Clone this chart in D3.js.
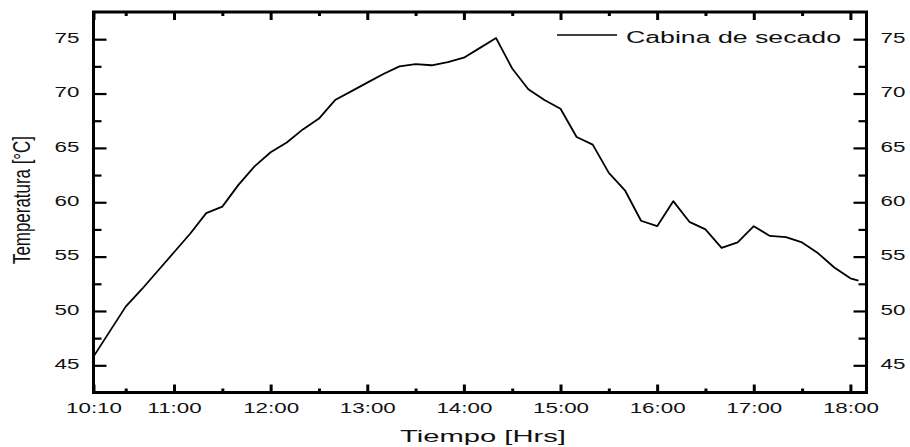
<!DOCTYPE html>
<html>
<head>
<meta charset="utf-8">
<script src="https://cdn.jsdelivr.net/npm/d3@7"></script>
<style>
  body { margin: 0; background: #fff; }
  svg text { font-family: "Liberation Sans", Arial, sans-serif; fill: #111; }
</style>
</head>
<body>
<div id="chart"></div>
<script>
// Tiempo de medición y temperatura de la cabina
const times = ["10:10", "10:20", "10:30", "10:40", "10:50", "11:00", "11:10", "11:20", "11:30", "11:40",
    "11:50", "12:00", "12:10", "12:20", "12:30", "12:40", "12:50", "13:00", "13:10", "13:20",
    "13:30", "13:40", "13:50", "14:00", "14:10", "14:20", "14:30", "14:40", "14:50", "15:00",
    "15:10", "15:20", "15:30", "15:40", "15:50", "16:00", "16:10", "16:20", "16:30", "16:40",
    "16:50", "17:00", "17:10", "17:20", "17:30", "17:40", "17:50", "18:00", "18:05"];
const temps = [45.8, 48.1, 50.4, 52.0, 53.7, 55.4, 57.1, 59.0, 59.6, 61.6,
    63.3, 64.6, 65.5, 66.7, 67.7, 69.4, 70.2, 71.0, 71.8, 72.5,
    72.7, 72.6, 72.9, 73.3, 74.2, 75.1, 72.3, 70.4, 69.4, 68.6,
    66.0, 65.3, 62.7, 61.1, 58.3, 57.8, 60.1, 58.2, 57.5, 55.8,
    56.3, 57.8, 56.9, 56.8, 56.3, 55.3, 54.0, 53.0, 52.8];

const xTickLabels = ["10:10", "11:00", "12:00", "13:00", "14:00", "15:00", "16:00", "17:00", "18:00"];
const xMinorLabels = ["10:30", "11:30", "12:30", "13:30", "14:30", "15:30", "16:30", "17:30"];
const yTicks = [45, 50, 55, 60, 65, 70, 75];
const yMinor = [47.5, 52.5, 57.5, 62.5, 67.5, 72.5];
const seriesName = "Cabina de secado";

const toMin = s => { const p = s.split(":"); return +p[0] * 60 + +p[1]; };
const fmtTime = m => Math.floor(m / 60) + ":" + String(m % 60).padStart(2, "0");

const width = 910, height = 447;
const margin = { top: 12, right: 43.5, bottom: 54.5, left: 93.5 };
const innerW = width - margin.left - margin.right;
const innerH = height - margin.top - margin.bottom;
const sx = 1.6; // texto estirado horizontalmente

const data = times.map((t, i) => ({ t: toMin(t), v: temps[i] }));

const x = d3.scaleLinear().domain([toMin("10:10"), toMin("18:10")]).range([0, innerW]);
const y = d3.scaleLinear().domain([42.5, 77.5]).range([innerH, 0]);

const svg = d3.select("#chart").append("svg")
    .attr("width", width)
    .attr("height", height);

const g = svg.append("g")
    .attr("transform", "translate(" + margin.left + "," + margin.top + ")");

function stretchTicks(sel) {
    sel.selectAll(".tick text").each(function() {
        const t = d3.select(this);
        const tx = +t.attr("x") || 0;
        t.attr("x", tx / sx).attr("transform", "scale(" + sx + ",1)");
    });
}

function styleAxis(sel, w) {
    sel.select(".domain").remove();
    sel.selectAll(".tick line").attr("stroke", "#000").attr("stroke-width", w);
}

const xMajor = xTickLabels.map(toMin);
const xMin = xMinorLabels.map(toMin);

// eje inferior
const xb = g.append("g").attr("transform", "translate(0," + innerH + ")")
    .call(d3.axisBottom(x).tickValues(xMajor).tickSize(-8).tickSizeOuter(0).tickPadding(10.5).tickFormat(fmtTime));
xb.selectAll(".tick text").style("font-size", "14px");
styleAxis(xb, 3);
stretchTicks(xb);
const xbm = g.append("g").attr("transform", "translate(0," + innerH + ")")
    .call(d3.axisBottom(x).tickValues(xMin).tickSize(-4).tickSizeOuter(0).tickFormat(""));
styleAxis(xbm, 3);

// eje superior
const xt = g.append("g")
    .call(d3.axisTop(x).tickValues(xMajor).tickSize(-8).tickSizeOuter(0).tickFormat(""));
styleAxis(xt, 3);
const xtm = g.append("g")
    .call(d3.axisTop(x).tickValues(xMin).tickSize(-4).tickSizeOuter(0).tickFormat(""));
styleAxis(xtm, 3);

// eje izquierdo
const yl = g.append("g")
    .call(d3.axisLeft(y).tickValues(yTicks).tickSize(-13).tickSizeOuter(0).tickPadding(14));
yl.selectAll(".tick text").style("font-size", "14px").attr("dy", "0.24em");
styleAxis(yl, 2.2);
stretchTicks(yl);
const ylm = g.append("g")
    .call(d3.axisLeft(y).tickValues(yMinor).tickSize(-8).tickSizeOuter(0).tickFormat(""));
styleAxis(ylm, 2.2);

// eje derecho
const yr = g.append("g").attr("transform", "translate(" + innerW + ",0)")
    .call(d3.axisRight(y).tickValues(yTicks).tickSize(-13).tickSizeOuter(0).tickPadding(14));
yr.selectAll(".tick text").style("font-size", "14px").attr("dy", "0.24em");
styleAxis(yr, 2.2);
stretchTicks(yr);
const yrm = g.append("g").attr("transform", "translate(" + innerW + ",0)")
    .call(d3.axisRight(y).tickValues(yMinor).tickSize(-8).tickSizeOuter(0).tickFormat(""));
styleAxis(yrm, 2.2);

// marco
g.append("rect")
    .attr("width", innerW)
    .attr("height", innerH)
    .attr("fill", "none")
    .attr("stroke", "#000")
    .attr("stroke-width", 3);

// curva
const line = d3.line()
    .x(d => x(d.t))
    .y(d => y(d.v));

g.append("path")
    .datum(data)
    .attr("fill", "none")
    .attr("stroke", "#000")
    .attr("stroke-width", 1.8)
    .attr("stroke-linejoin", "round")
    .attr("d", line);

// leyenda
const legend = svg.append("g").attr("transform", "translate(557,35)");
legend.append("line")
    .attr("x1", 0).attr("x2", 60)
    .attr("stroke", "#000").attr("stroke-width", 1.5);
legend.append("text")
    .attr("x", 69).attr("y", 7.5)
    .attr("textLength", 215)
    .attr("lengthAdjust", "spacingAndGlyphs")
    .style("font-size", "16px")
    .text(seriesName);

// títulos
svg.append("text")
    .attr("x", 483).attr("y", 441.5)
    .attr("text-anchor", "middle")
    .attr("textLength", 166)
    .attr("lengthAdjust", "spacingAndGlyphs")
    .style("font-size", "17px")
    .text("Tiempo [Hrs]");

svg.append("text")
    .attr("transform", "translate(30,200) rotate(-90) scale(1,1.6)")
    .attr("text-anchor", "middle")
    .attr("textLength", 128)
    .attr("lengthAdjust", "spacingAndGlyphs")
    .style("font-size", "15px")
    .text("Temperatura [°C]");
</script>
</body>
</html>
